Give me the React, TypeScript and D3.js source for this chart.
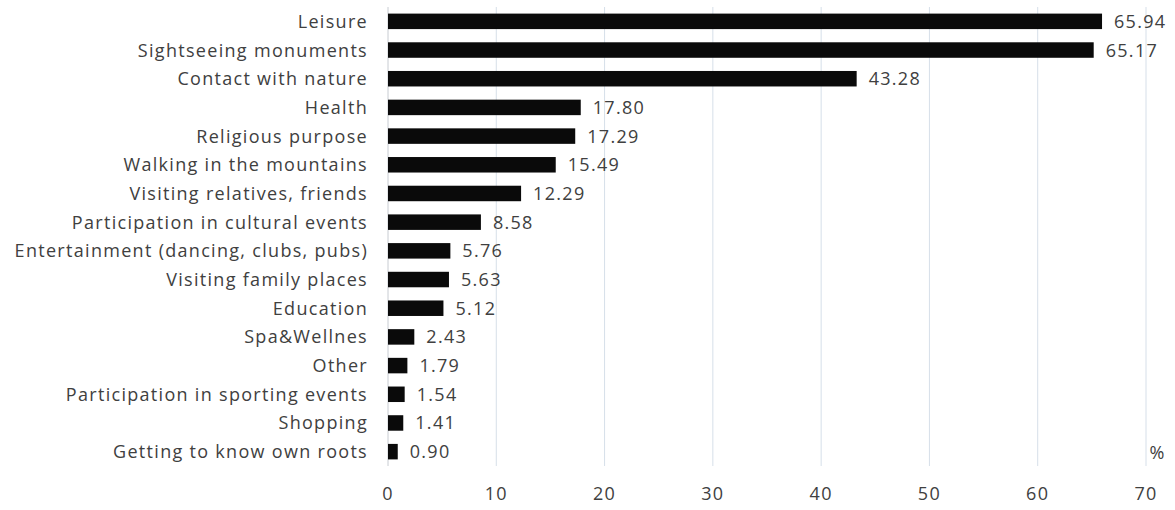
import React from "react";
import * as d3 from "d3";

const categories = [
  "Leisure",
  "Sightseeing monuments",
  "Contact with nature ",
  "Health",
  "Religious purpose",
  "Walking in the mountains ",
  "Visiting relatives, friends",
  "Participation in cultural events",
  "Entertainment (dancing, clubs, pubs)",
  "Visiting family places",
  "Education",
  "Spa&Wellnes",
  "Other",
  "Participation in sporting events",
  "Shopping",
  "Getting to know own roots",
];
const values = [65.94, 65.17, 43.28, 17.8, 17.29, 15.49, 12.29, 8.58, 5.76, 5.63, 5.12, 2.43, 1.79, 1.54, 1.41, 0.9];
const xTicks = [0, 10, 20, 30, 40, 50, 60, 70];
const unitLabel = "%";

const W = 1175;
const H = 510;
const left = 388;
const right = 1146;
const top = 7;
const bottom = 466;
const font = "'Open Sans', 'DejaVu Sans', sans-serif";
const fs = 18;
const ls = 1.3;

export default function App() {
  const x = d3.scaleLinear().domain([0, 70]).range([left, right]);
  const y = d3.scaleBand<string>().domain(categories).range([top, bottom]).paddingInner(0.46).paddingOuter(0.23);
  const bh = y.bandwidth();
  return (
    <svg width={W} height={H} style={{ position: "absolute", left: 0, top: 0, background: "#fff" }}>
      {xTicks.map((t) => (
        <line key={"g" + t} x1={x(t)} x2={x(t)} y1={top} y2={bottom} stroke={t === 0 ? "#c8ccd2" : "#d6dfe9"} strokeWidth={1} />
      ))}
      {categories.map((c, i) => (
        <g key={c}>
          <rect x={x(0)} y={y(c)!} width={x(values[i]) - x(0)} height={bh} fill="#0a0a0a" />
          <text x={x(values[i]) + 12} y={y(c)! + bh / 2} dy="0.36em" fontFamily={font} fontSize={fs} letterSpacing={ls} fill="#404040">
            {values[i].toFixed(2)}
          </text>
          <text x={368} y={y(c)! + bh / 2} dy="0.36em" textAnchor="end" fontFamily={font} fontSize={fs} letterSpacing={ls} fill="#404040">
            {c.trimEnd()}
          </text>
        </g>
      ))}
      {xTicks.map((t) => (
        <text key={"t" + t} x={x(t)} y={494} dy="0.36em" textAnchor="middle" fontFamily={font} fontSize={fs} letterSpacing={ls} fill="#404040">
          {t}
        </text>
      ))}
      <text x={1157} y={453} dy="0.36em" textAnchor="middle" fontFamily={font} fontSize={fs} fill="#404040">
        {unitLabel}
      </text>
    </svg>
  );
}
